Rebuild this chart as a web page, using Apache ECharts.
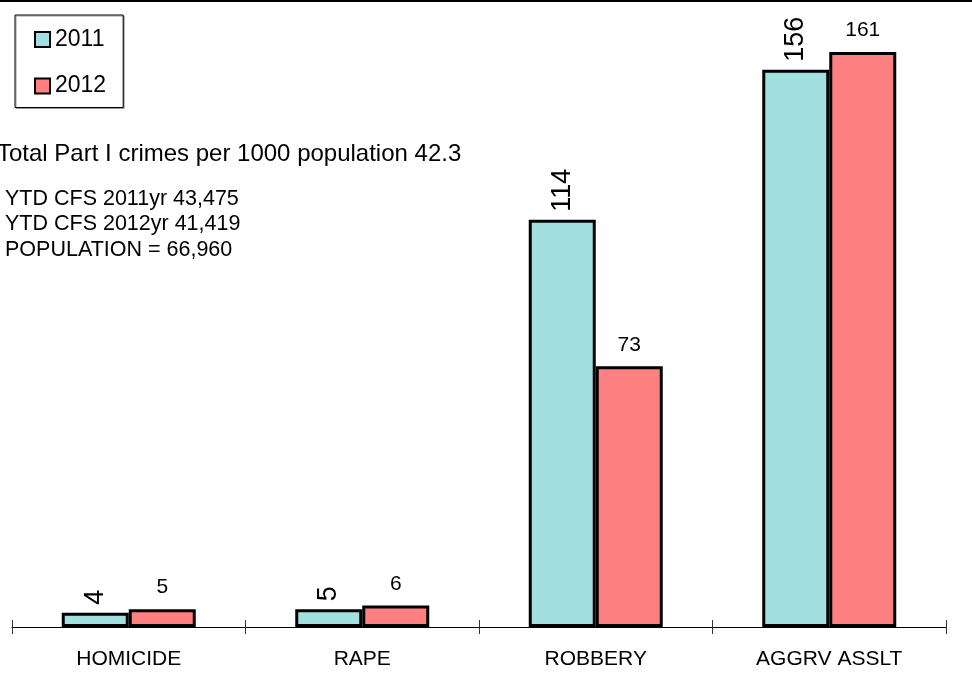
<!DOCTYPE html>
<html><head><meta charset="utf-8">
<script src="https://cdn.jsdelivr.net/npm/echarts@6/dist/echarts.min.js"></script>
<style>html,body{margin:0;padding:0;background:#fff}#c{width:972px;height:695px}</style>
</head><body><div id="c"></div>
<script>
const categories = ['HOMICIDE', 'RAPE', 'ROBBERY', 'AGGRV ASSLT'];
const seriesNames = ['2011', '2012'];
const values2011 = [4, 5, 114, 156];
const values2012 = [5, 6, 73, 161];
const headline = 'Total Part I crimes per 1000 population 42.3';
const notes = ['YTD CFS 2011yr 43,475', 'YTD CFS 2012yr 41,419', 'POPULATION = 66,960'];

const FONT = 'Liberation Sans, Arial, sans-serif';
const chart = echarts.init(document.getElementById('c'), null, {renderer: 'canvas'});

const noteY = [199, 224.5, 250.5];
const graphics = [
  {type: 'line', shape: {x1: 0, y1: 1, x2: 972, y2: 1}, style: {stroke: '#000', lineWidth: 2}, z: 100},
  {type: 'text', left: -3, top: 142, style: {text: headline, font: '24px ' + FONT, fill: '#000'}}
].concat(notes.map((t, i) => ({
  type: 'text', left: 5, top: noteY[i] - 11,
  style: {text: t, font: '21.5px ' + FONT, fill: '#000'}
})));

chart.setOption({
  animation: false,
  backgroundColor: '#fff',
  textStyle: {fontFamily: FONT},
  grid: {left: 12, right: 26, top: 2, bottom: 68, containLabel: false},
  legend: {
    orient: 'vertical', left: 15, top: 15,
    padding: [13, 17, 10, 19], itemGap: 23.5,
    itemWidth: 15, itemHeight: 15, icon: 'rect',
    borderColor: '#000', borderWidth: 1,
    shadowColor: '#999', shadowOffsetX: 1, shadowOffsetY: 1, shadowBlur: 0,
    backgroundColor: '#fff',
    itemStyle: {borderColor: '#000', borderWidth: 2},
    textStyle: {fontSize: 23, color: '#000', lineHeight: 22, padding: [0, 0, 0, 0]},
    data: seriesNames
  },
  xAxis: [{
    type: 'category', data: categories,
    axisLine: {lineStyle: {color: '#000', width: 1}},
    axisTick: {show: true, length: 7, lineStyle: {color: '#333'}},
    axisLabel: {fontSize: 21, color: '#000', margin: 22}
  }, {
    type: 'category', data: categories, position: 'bottom',
    axisLine: {show: false},
    axisTick: {show: true, inside: true, length: 7, lineStyle: {color: '#333'}},
    axisLabel: {show: false}
  }],
  yAxis: {type: 'value', min: 0, max: 175, show: false},
  series: [{
    name: seriesNames[0], type: 'bar', data: values2011,
    barWidth: 67, barGap: '0%',
    itemStyle: {color: '#A2E0E0', borderColor: '#000', borderWidth: 3},
    label: {show: true, position: 'top', rotate: 90, align: 'left', verticalAlign: 'middle',
            distance: 8, fontSize: 27, color: '#000'}
  }, {
    name: seriesNames[1], type: 'bar', data: values2012,
    barWidth: 67, barGap: '0%',
    itemStyle: {color: '#FF8080', borderColor: '#000', borderWidth: 3},
    label: {show: true, position: 'top', distance: 11, fontSize: 21, color: '#000'}
  }],
  graphic: graphics
});
</script></body></html>
